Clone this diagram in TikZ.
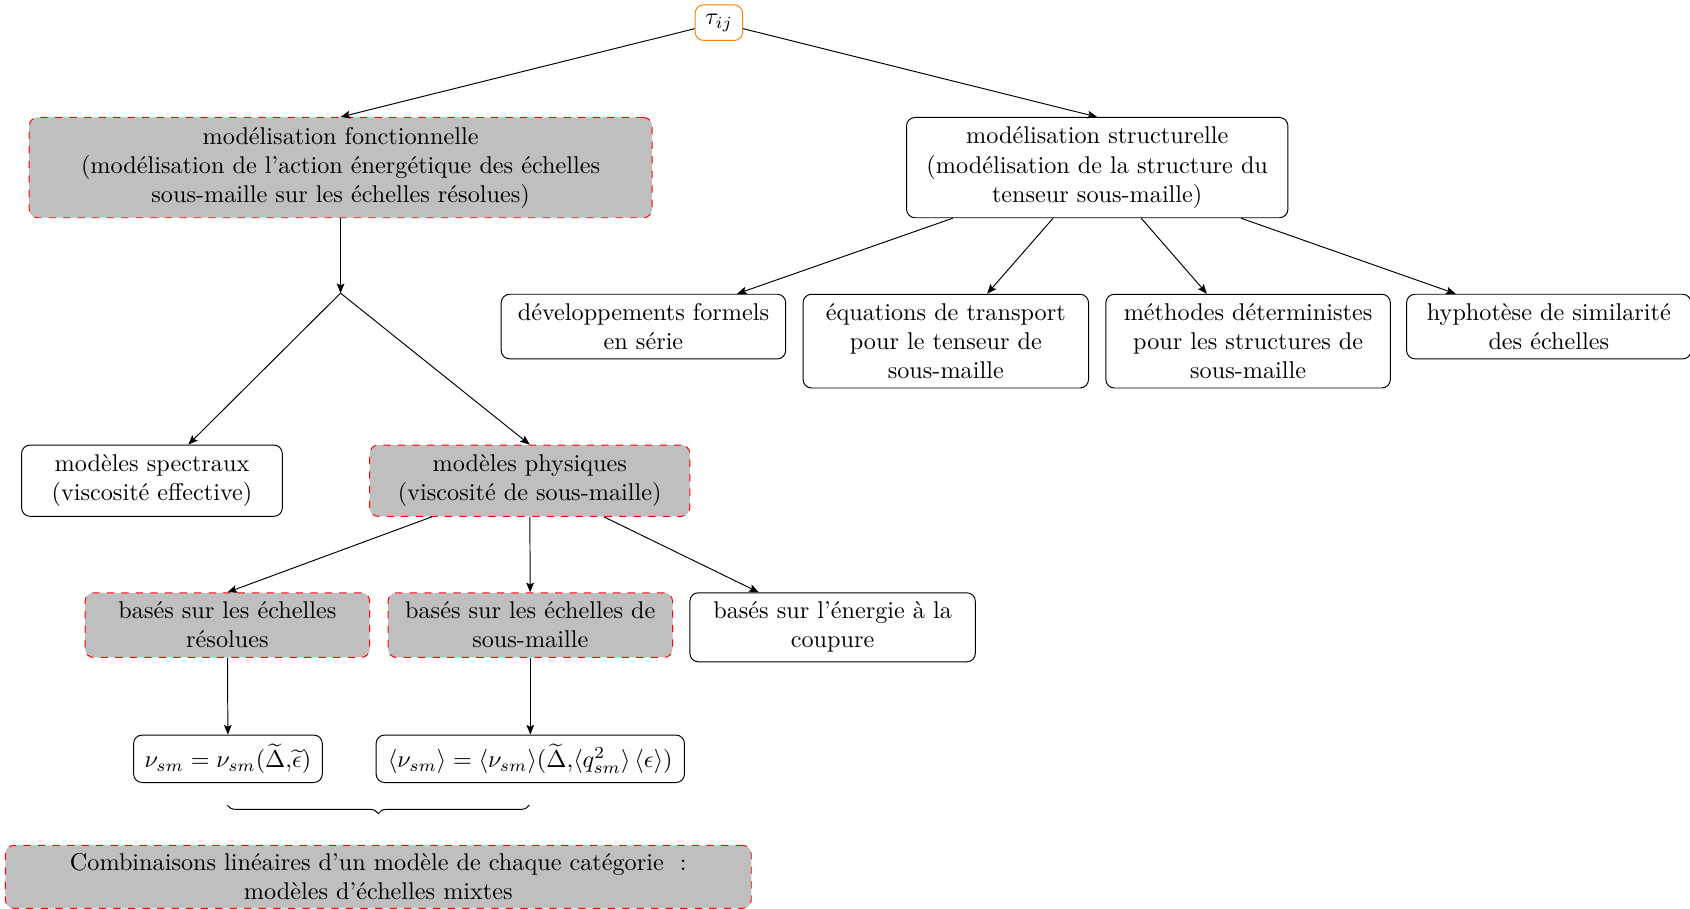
\documentclass[tikz,border=0pt]{standalone}
\usetikzlibrary{arrows.meta,decorations.pathreplacing}
\tikzset{
  box/.style={draw, rounded corners=3.5pt, align=flush center, inner sep=3.33pt, fill=white},
  hot/.style={box, fill=lightgray, draw=red, dashed},
  arr/.style={-{Stealth[length=4pt,width=3.2pt,inset=0.8pt]}},
}
\begin{document}
\begin{tikzpicture}[x=0.445pt, y=-0.445pt]
\useasboundingbox (0,0) rectangle (1568,843);
% top
\node[box, draw=orange, minimum width=19.6pt, minimum height=14.7pt] (tau) at (667,21) {$\tau_{ij}$};
\node[hot, text width=250.5pt, minimum height=41.4pt] (fonct) at (316,155.5)
  {modélisation fonctionnelle\\(modélisation de l'action énergétique des échelles sous-maille sur les échelles résolues)};
\node[box, text width=150.8pt, minimum height=41.4pt] (struct) at (1018,155.5)
  {modélisation structurelle\\(modélisation de la structure du tenseur sous-maille)};
% structural children
\node[box, text width=110.8pt, minimum height=26.7pt] (dev) at (597,303) {développements formels en série};
\node[box, text width=111.2pt, minimum height=38.7pt] (equ) at (877.5,316.5) {équations de transport pour le tenseur de sous-maille};
\node[box, text width=110.8pt, minimum height=38.7pt] (meth) at (1158,316.5) {méthodes déterministes pour les structures de sous-maille};
\node[box, text width=110.8pt, minimum height=26.7pt] (hyp) at (1437,303) {hyphotèse de similarité des échelles};
% functional branch
\coordinate (branch) at (316,272);
\node[box, text width=101pt, minimum height=29.4pt] (spect) at (141,446) {modèles spectraux\\(viscosité effective)};
\node[hot, text width=125.5pt, minimum height=29.4pt] (phys) at (491.5,446) {modèles physiques\\(viscosité de sous-maille)};
\node[hot, text width=110.8pt, minimum height=26.7pt] (res) at (211,580) {basés sur les échelles résolues};
\node[hot, text width=110.8pt, minimum height=26.7pt] (sm) at (492,580) {basés sur les échelles de sous-maille};
\node[box, text width=111.2pt, minimum height=28.5pt] (ener) at (772.5,582) {basés sur l'énergie à la coupure};
\node[box, minimum width=77.9pt, minimum height=19.6pt] (nua) at (211.5,704)
  {$\nu_{sm} = \nu_{sm}(\widetilde{\Delta}{,}\widetilde{\epsilon})$};
\node[box, minimum width=127.3pt, minimum height=19.6pt] (nub) at (492,704)
  {$\langle\nu_{sm}\rangle = \langle\nu_{sm}\rangle(\widetilde{\Delta}{,}\langle q_{sm}^2\rangle\,\langle\epsilon\rangle)$};
\coordinate (bl) at (211,747);
\coordinate (br) at (491,747);
\node[hot, text width=301.3pt, minimum height=26pt] (comb) at (351,813.5)
  {Combinaisons linéaires d'un modèle de chaque catégorie\ \ :\\modèles d'échelles mixtes};
% connectors
\draw[arr] (tau) -- (fonct.north);
\draw[arr] (tau) -- (struct.north);
\draw[arr] (struct) -- (dev);
\draw[arr] (struct) -- (equ);
\draw[arr] (struct) -- (meth);
\draw[arr] (struct) -- (hyp);
\draw[arr] (fonct) -- (branch);
\draw[arr] (branch) -- (spect);
\draw[arr] (branch) -- (phys.north);
\draw[arr] (phys) -- (res.north);
\draw[arr] (phys) -- (sm);
\draw[arr] (phys) -- ([xshift=-30.5pt]ener.north);
\draw[arr] (res) -- (nua);
\draw[arr] (sm) -- (nub);
\draw[decorate, decoration={brace, mirror, amplitude=3.5pt}] (bl) -- (br);
\end{tikzpicture}
\end{document}
